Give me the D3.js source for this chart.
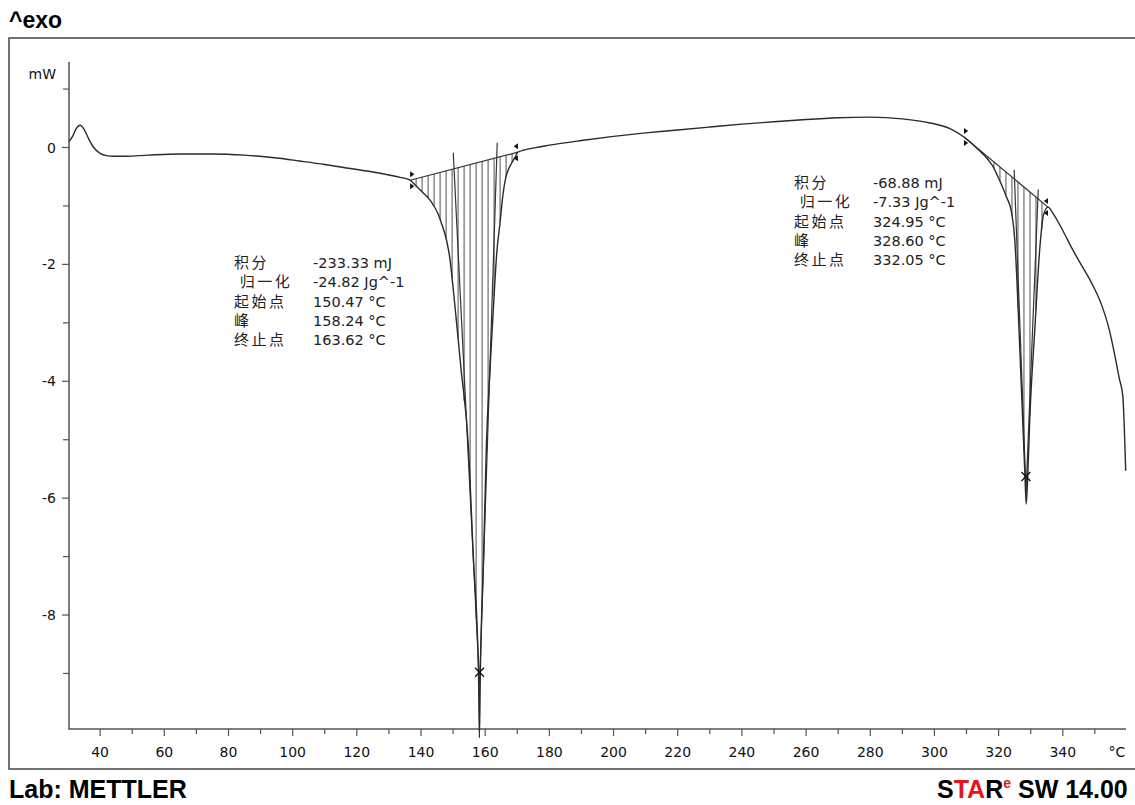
<!DOCTYPE html>
<html>
<head>
<meta charset="utf-8">
<title>DSC</title>
<script src="https://cdn.jsdelivr.net/npm/d3@7"></script>
<style>
  html, body { margin: 0; padding: 0; background: #fff; }
  svg { display: block; }
  .tick-label { font-family: "DejaVu Sans", sans-serif; font-size: 14px; fill: #111; }
  .ann { font-family: "DejaVu Sans", "Noto Sans CJK SC", sans-serif; font-size: 14.5px; fill: #222; }
  .ann-cn { font-family: "Noto Sans CJK SC", sans-serif; font-size: 15px; letter-spacing: 2.5px; fill: #222; }
  .big { font-family: "Liberation Sans", Arial, sans-serif; font-weight: bold; fill: #000; }
</style>
</head>
<body>
<script>
// curve: temperature (°C) and heat flow (mW)
var temps = [30.3, 31.5, 32.5, 33.8, 35, 36.5, 38, 40, 42, 44, 48, 55, 65, 75, 85, 95, 102, 110, 118, 125, 130, 133.5,
  136.6, 138.5, 140.7, 142.5, 143.8, 145.2, 146.4, 147.3, 148, 149, 150, 151, 152.5, 154.7, 156.3, 157.9, 158.2, 158.5,
  159.5, 160.4, 161.5, 162.6, 163.6, 164.6, 165.6, 166.4, 167.2, 168.2, 169.3, 170.2, 175, 180, 190, 200, 210, 220,
  230, 240, 250, 260, 270, 280, 290, 298.6, 305, 309.2, 313, 317.3, 318.3, 319.8, 322.4, 324, 325, 326.5, 327.6,
  328.2, 328.6, 329.1, 329.7, 331.3, 332.8, 334, 335.4, 337, 340, 343, 346, 349, 352, 354.5, 356.3, 357.6, 358.7, 359.6];
var heatFlow = [0.10, 0.20, 0.32, 0.38, 0.31, 0.14, 0.0, -0.10, -0.14, -0.15, -0.15, -0.13, -0.11, -0.11, -0.13, -0.18, -0.23, -0.29, -0.36, -0.42, -0.47, -0.51,
  -0.56, -0.66, -0.78, -0.88, -0.98, -1.12, -1.30, -1.45, -1.60, -1.90, -2.40, -2.95, -3.80, -5.06, -7.0, -8.95, -10.1, -8.95,
  -7.0, -5.05, -3.8, -2.7, -1.81, -1.30, -0.78, -0.52, -0.38, -0.27, -0.17, -0.08, -0.01, 0.04, 0.12, 0.19, 0.25, 0.30,
  0.35, 0.40, 0.44, 0.48, 0.51, 0.52, 0.49, 0.42, 0.32, 0.18, 0.0, -0.25, -0.33, -0.50, -0.84, -1.10, -1.55, -3.3, -4.8,
  -5.6, -6.1, -5.6, -4.66, -3.1, -1.75, -1.15, -1.02, -1.13, -1.42, -1.74, -2.03, -2.32, -2.68, -3.12, -3.58, -3.95, -4.25, -5.53];

// integration limits [start T, start mW, end T, end mW]
var peakLimits = [[136.6, -0.56, 170.2, -0.08], [309.2, 0.18, 335.4, -1.02]];
// peak markers (×)
var peakMarks = [[158.24, -8.98], [328.5, -5.63]];
// tangent lines [T1, mW1, T2, mW2]
var tangents = [[150.05, -0.09, 158.25, -9.2], [163.75, 0.08, 158.25, -9.2],
                [324.85, -0.38, 328.55, -5.9], [332.35, -0.72, 328.55, -5.9]];

var xMajor = [40, 60, 80, 100, 120, 140, 160, 180, 200, 220, 240, 260, 280, 300, 320, 340];
var xMinor = [50, 70, 90, 110, 130, 150, 170, 190, 210, 230, 250, 270, 290, 310, 330, 350];
var yMajor = [0, -2, -4, -6, -8];
var yMinor = [1, -1, -3, -5, -7, -9];

var annLabels = ["积分", " 归一化", "起始点", "峰", "终止点"];
var annValues1 = ["-233.33 mJ", "-24.82 Jg^-1", "150.47 °C", "158.24 °C", "163.62 °C"];
var annValues2 = ["-68.88 mJ", "-7.33 Jg^-1", "324.95 °C", "328.60 °C", "332.05 °C"];

var width = 1135, height = 805;
var svg = d3.select("body").append("svg").attr("width", width).attr("height", height);

var x = d3.scaleLinear().domain([30.3, 359.7]).range([69, 1126]);
var y = d3.scaleLinear().domain([1.463, -9.95]).range([62, 729]);

// outer frame
svg.append("rect").attr("x", 9).attr("y", 38).attr("width", 1140).attr("height", 731)
  .attr("fill", "none").attr("stroke", "#444").attr("stroke-width", 1.5);

// axes
var axisColor = "#555";
svg.append("line").attr("x1", 69).attr("x2", 69).attr("y1", 62).attr("y2", 729)
  .attr("stroke", axisColor).attr("stroke-width", 1.5);
svg.append("line").attr("x1", 68.25).attr("x2", 1126).attr("y1", 729).attr("y2", 729)
  .attr("stroke", axisColor).attr("stroke-width", 1.5);

svg.selectAll(".xmaj").data(xMajor).enter().append("line")
  .attr("x1", d => x(d)).attr("x2", d => x(d)).attr("y1", 729).attr("y2", 736)
  .attr("stroke", axisColor).attr("stroke-width", 1.2);
svg.selectAll(".xmin").data(xMinor).enter().append("line")
  .attr("x1", d => x(d)).attr("x2", d => x(d)).attr("y1", 729).attr("y2", 734)
  .attr("stroke", axisColor).attr("stroke-width", 1.2);
svg.selectAll(".xlab").data(xMajor).enter().append("text")
  .attr("class", "tick-label").attr("x", d => x(d)).attr("y", 757).attr("text-anchor", "middle")
  .text(d => d);
svg.append("text").attr("class", "tick-label").attr("x", 1117).attr("y", 757)
  .attr("text-anchor", "middle").text("°C");

svg.selectAll(".ymaj").data(yMajor).enter().append("line")
  .attr("x1", 62).attr("x2", 69).attr("y1", d => y(d)).attr("y2", d => y(d))
  .attr("stroke", axisColor).attr("stroke-width", 1.2);
svg.selectAll(".ymin").data(yMinor).enter().append("line")
  .attr("x1", 63).attr("x2", 69).attr("y1", d => y(d)).attr("y2", d => y(d))
  .attr("stroke", axisColor).attr("stroke-width", 1.2);
svg.selectAll(".ylab").data(yMajor).enter().append("text")
  .attr("class", "tick-label").attr("x", 56).attr("y", d => y(d) + 5).attr("text-anchor", "end")
  .text(d => d);
svg.append("text").attr("class", "tick-label").attr("x", 56).attr("y", 79)
  .attr("text-anchor", "end").text("mW");

// hatching between baseline and curve
function curveAt(t) {
  for (var i = 1; i < temps.length; i++) {
    if (t <= temps[i]) {
      var f = (t - temps[i - 1]) / (temps[i] - temps[i - 1]);
      return heatFlow[i - 1] + f * (heatFlow[i] - heatFlow[i - 1]);
    }
  }
  return heatFlow[heatFlow.length - 1];
}
peakLimits.forEach(function(p) {
  var step = 1.87;
  for (var t = p[0] + step; t < p[2]; t += step) {
    var base = p[1] + (p[3] - p[1]) * (t - p[0]) / (p[2] - p[0]);
    svg.append("line").attr("x1", x(t)).attr("x2", x(t))
      .attr("y1", y(base)).attr("y2", y(curveAt(t)))
      .attr("stroke", "#6e6e6e").attr("stroke-width", 1.2);
  }
  // baseline
  svg.append("line").attr("x1", x(p[0])).attr("x2", x(p[2]))
    .attr("y1", y(p[1])).attr("y2", y(p[3]))
    .attr("stroke", "#333").attr("stroke-width", 1.2);
});

// tangents
svg.selectAll(".tan").data(tangents).enter().append("line")
  .attr("x1", d => x(d[0])).attr("y1", d => y(d[1]))
  .attr("x2", d => x(d[2])).attr("y2", d => y(d[3]))
  .attr("stroke", "#333").attr("stroke-width", 1.2);

// main curve
var pts = temps.map((t, i) => [t, heatFlow[i]]);
svg.append("path").datum(pts)
  .attr("d", d3.line().x(d => x(d[0])).y(d => y(d[1])).curve(d3.curveMonotoneX))
  .attr("fill", "none").attr("stroke", "#2a2a2a").attr("stroke-width", 1.4);

// integration limit markers
function tri(cx, cy, dir, up) {
  var s = 6, off = up ? -9 : 3;
  var y0 = cy + off;
  return "M" + cx + "," + y0 + "L" + cx + "," + (y0 + s) + "L" + (cx + dir * s * 0.7) + "," + (y0 + s / 2) + "Z";
}
peakLimits.forEach(function(p) {
  [[p[0], p[1], 1], [p[2], p[3], -1]].forEach(function(m) {
    var cx = x(m[0]), cy = y(m[1]);
    svg.append("path").attr("d", tri(cx, cy, m[2], true)).attr("fill", "#111");
    svg.append("path").attr("d", tri(cx, cy, m[2], false)).attr("fill", "#111");
  });
});

// peak crosses
peakMarks.forEach(function(p) {
  var cx = x(p[0]), cy = y(p[1]), s = 4.5;
  svg.append("path").attr("d", "M" + (cx - s) + "," + (cy - s) + "L" + (cx + s) + "," + (cy + s) +
      "M" + (cx - s) + "," + (cy + s) + "L" + (cx + s) + "," + (cy - s))
    .attr("stroke", "#111").attr("stroke-width", 1.3);
});

// annotations
function annotate(lx, vx, y0, values) {
  annLabels.forEach(function(l, i) {
    svg.append("text").attr("class", "ann-cn").attr("x", lx).attr("y", y0 + i * 19.3)
      .style("white-space", "pre").text(l);
    svg.append("text").attr("class", "ann").attr("x", vx).attr("y", y0 + i * 19.3).text(values[i]);
  });
}
annotate(234, 313, 268, annValues1);
annotate(794, 873, 188, annValues2);

// titles
svg.append("text").attr("class", "big").attr("x", 9).attr("y", 28).style("font-size", "23px").text("^exo");
svg.append("text").attr("class", "big").attr("x", 9).attr("y", 798).style("font-size", "25px").text("Lab: METTLER");
var star = svg.append("text").attr("class", "big").attr("x", 937).attr("y", 798).style("font-size", "25px");
star.append("tspan").text("S");
star.append("tspan").attr("fill", "#e8141b").text("TA");
star.append("tspan").text("R");
star.append("tspan").attr("fill", "#e8141b").attr("dy", -10).style("font-size", "14px").text("e");
star.append("tspan").attr("dy", 10).text(" SW 14.00");
</script>
</body>
</html>
